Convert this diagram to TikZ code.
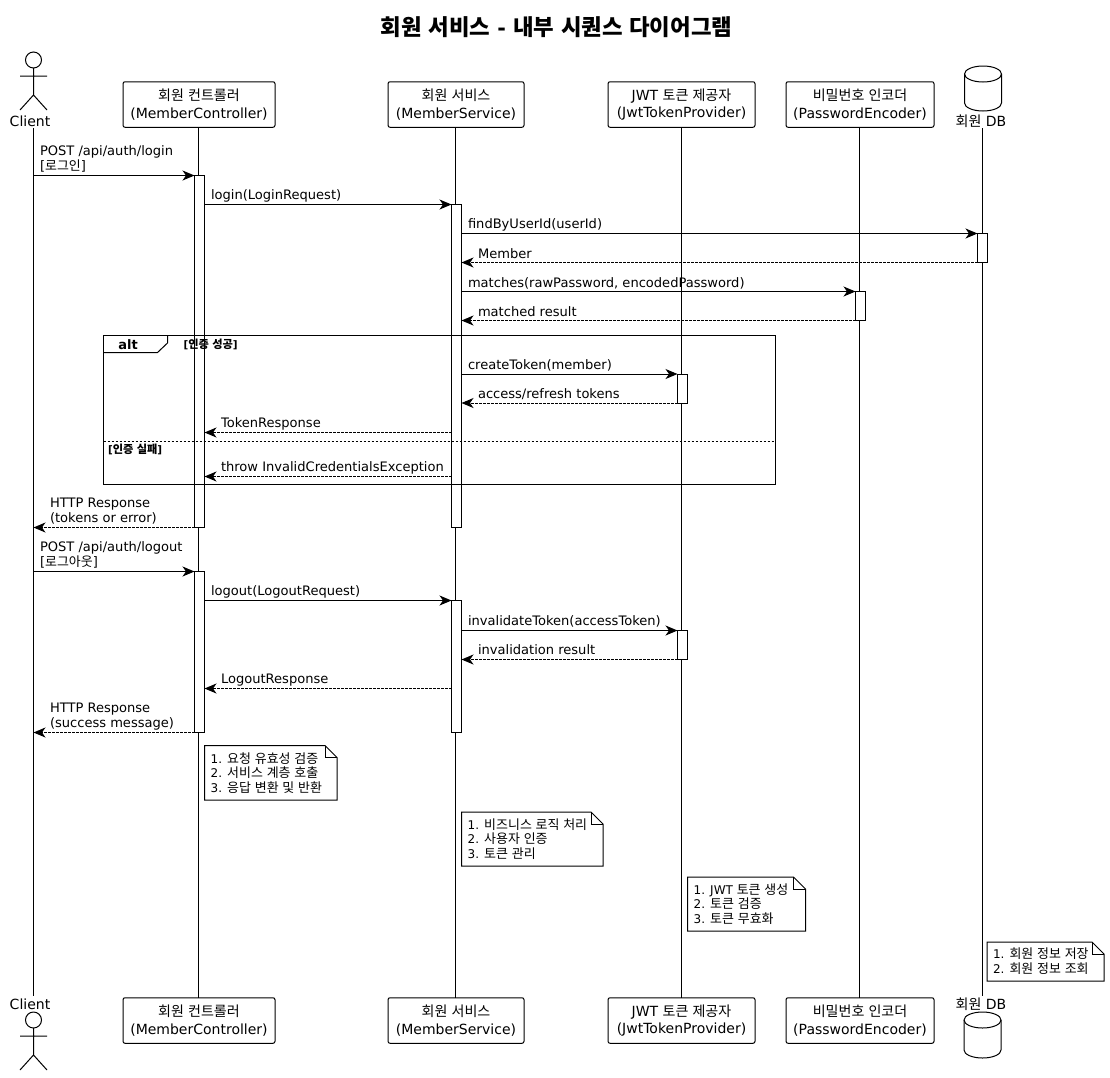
\documentclass[tikz,border=0pt]{standalone}
\usepackage{fontspec}
\usetikzlibrary{arrows.meta,shapes.geometric,calc}
\setmainfont{DejaVu Sans}
\newfontfamily\krfont[Scale=1.08,WordSpace=1.3]{Noto Sans CJK KR}
% Korean at the size the labels and notes print it
\newcommand{\kr}[1]{{\fontsize{12}{14.5}\krfont #1}}
% Korean at the size the participant boxes print it
\newcommand{\krb}[1]{{\fontsize{13}{17}\krfont #1}}
\lineskiplimit=-20pt
\tikzset{
  x=1pt,y=-1pt,
  every node/.style={inner sep=0pt,outer sep=0pt,text=black},
  base/.style={line width=1pt,draw=black},
  life/.style={base},
  partbox/.style={base,fill=white,rounded corners=2pt,minimum height=45.5pt,align=center,font=\fontsize{14}{17.3}\selectfont},
  actname/.style={font=\fontsize{14}{15}\selectfont},
  act/.style={base,fill=white,minimum width=10pt},
  msg/.style={base,-{Stealth[length=12pt,width=10pt,inset=3.5pt]}},
  ret/.style={msg,dash pattern=on 2.5pt off 1.5pt},
  lab/.style={anchor=base west,align=left,font=\fontsize{13.05}{15.5}\selectfont},
  notetext/.style={anchor=base west,align=left,font=\fontsize{12}{14.5}\selectfont},
  guard/.style={anchor=west,font=\fontsize{10.4}{12}\bfseries\selectfont},
  shape2/.style={base,fill=white},
}
\newcommand{\notebox}[4]{\draw[shape2] (#1,#2) -- ({#3-12},#2) -- (#3,{#2+12}) -- (#3,#4) -- (#1,#4) -- cycle;
  \draw[base] ({#3-12},#2) -- ({#3-12},{#2+12}) -- (#3,{#2+12});}
\newcommand{\actor}[2]{\draw[base] (#1,#2) circle (8);
  \draw[base] (#1,{#2+8}) -- (#1,{#2+35}) (#1-13.5,{#2+16}) -- (#1+13.5,{#2+16}) (#1-13.5,{#2+50}) -- (#1,{#2+35}) -- (#1+13.5,{#2+50});}
\newcommand{\dbcyl}[3]{\draw[shape2] (#1-18.5,{#2+8}) arc[start angle=180,end angle=360,x radius=18.5,y radius=8] -- (#1+18.5,{#3-8}) arc[start angle=0,end angle=180,x radius=18.5,y radius=8] -- cycle;
  \draw[base] (#1-18.5,{#2+8}) arc[start angle=180,end angle=0,x radius=18.5,y radius=8];}
\begin{document}
\begin{tikzpicture}
\useasboundingbox (0,0) rectangle (1110,1077);
\fill[white] (0,0) rectangle (1110,1077);
% title
\node[font=\fontsize{20.7}{24}\selectfont\bfseries] (title) at (556.5,27) {{\krfont\bfseries 회원 서비스} - {\krfont\bfseries 내부 시퀀스 다이어그램}};
% participants
\node[partbox,minimum width=152pt] (ctlT) at (199,104.5) {\krb{회원 컨트롤러}\\(MemberController)};
\node[partbox,minimum width=136pt] (svcT) at (456,104.5) {\krb{회원 서비스}\\(MemberService)};
\node[partbox,minimum width=147pt] (jwtT) at (681.5,104.5) {JWT \krb{토큰 제공자}\\(JwtTokenProvider)};
\node[partbox,minimum width=148pt] (pwdT) at (860,104.5) {\krb{비밀번호 인코더}\\(PasswordEncoder)};
\node[partbox,minimum width=152pt] (ctlB) at (199,1020.5) {\krb{회원 컨트롤러}\\(MemberController)};
\node[partbox,minimum width=136pt] (svcB) at (456,1020.5) {\krb{회원 서비스}\\(MemberService)};
\node[partbox,minimum width=147pt] (jwtB) at (681.5,1020.5) {JWT \krb{토큰 제공자}\\(JwtTokenProvider)};
\node[partbox,minimum width=148pt] (pwdB) at (860,1020.5) {\krb{비밀번호 인코더}\\(PasswordEncoder)};
\node[actname] (cliT) at (30,121) {Client};
\node[actname] (cliB) at (30,1004) {Client};
\node[actname] (dbT) at (981,121) {\krb{회원} DB};
\node[actname] (dbB) at (981,1004) {\krb{회원} DB};
\actor{33.5}{60}
\actor{33.5}{1020}
\dbcyl{983}{66}{111}
\dbcyl{982.5}{1012}{1058}
% lifelines
\coordinate (cliTop) at (33.5,128);
\coordinate (cliBot) at (33.5,996);
\coordinate (dbTop) at (982.5,128);
\coordinate (dbBot) at (982.5,996);
\draw[life] (cliTop) -- (cliBot);
\draw[life] (dbTop) -- (dbBot);
\draw[life] (ctlT.south -| 198.5,0) -- (ctlB.north -| 198.5,0);
\draw[life] (svcT.south -| 455.5,0) -- (svcB.north -| 455.5,0);
\draw[life] (jwtT.south) -- (jwtB.north);
\draw[life] (pwdT.south -| 859.5,0) -- (pwdB.north -| 859.5,0);
% activations
\node[act,minimum height=352pt] (ac1) at (199.5,351.5) {};
\node[act,minimum height=161pt] (ac2) at (199.5,652) {};
\node[act,minimum height=323pt] (as1) at (456.5,366) {};
\node[act,minimum height=132pt] (as2) at (456.5,666.5) {};
\node[act,minimum height=29pt] (ad1) at (982.5,248) {};
\node[act,minimum height=29pt] (ap1) at (860.5,306) {};
\node[act,minimum height=29pt] (aj1) at (682.5,388.5) {};
\node[act,minimum height=29pt] (aj2) at (682.5,645) {};
% message levels
\foreach \n/\v in {a/175.5,b/204.5,c/233.5,d/262.5,e/291.5,f/320.5,g/374,h/403,i/432.5,j/476.5,k/527.5,l/571.5,m/600.5,n/630.5,o/659.5,p/688.5,q/732.5}
  \coordinate (y\n) at (0,\v);
\draw[msg] (cliTop |- ya) -- (ac1.west |- ya);
\draw[msg] (ac1.east |- yb) -- (as1.west |- yb);
\draw[msg] (as1.east |- yc) -- (ad1.west |- yc);
\draw[ret] (ad1.west |- yd) -- (as1.east |- yd);
\draw[msg] (as1.east |- ye) -- (ap1.west |- ye);
\draw[ret] (ap1.west |- yf) -- (as1.east |- yf);
\draw[msg] (as1.east |- yg) -- (aj1.west |- yg);
\draw[ret] (aj1.west |- yh) -- (as1.east |- yh);
\draw[ret] (as1.west |- yi) -- (ac1.east |- yi);
\draw[ret] (as1.west |- yj) -- (ac1.east |- yj);
\draw[ret] (ac1.west |- yk) -- (cliTop |- yk);
\draw[msg] (cliTop |- yl) -- (ac2.west |- yl);
\draw[msg] (ac2.east |- ym) -- (as2.west |- ym);
\draw[msg] (as2.east |- yn) -- (aj2.west |- yn);
\draw[ret] (aj2.west |- yo) -- (as2.east |- yo);
\draw[ret] (as2.west |- yp) -- (ac2.east |- yp);
\draw[ret] (ac2.west |- yq) -- (cliTop |- yq);
% labels
\node[lab] (l1) at (40,170.5) {POST /api/auth/login\\{}[\kr{로그인}]};
\node[lab] (l2) at (211,199.5) {login(LoginRequest)};
\node[lab] (l3) at (468,228.5) {findByUserId(userId)};
\node[lab] (l4) at (478,258.5) {Member};
\node[lab] (l5) at (468,287.5) {matches(rawPassword, encodedPassword)};
\node[lab] (l6) at (478,316.5) {matched result};
\node[lab] (l7) at (468,369) {createToken(member)};
\node[lab] (l8) at (478,398.5) {access/refresh tokens};
\node[lab] (l9) at (221,427.5) {TokenResponse};
\node[lab] (l10) at (221,471.5) {throw InvalidCredentialsException};
\node[lab] (l11) at (50,522.5) {HTTP Response\\(tokens or error)};
\node[lab] (l12) at (40,566.5) {POST /api/auth/logout\\{}[\kr{로그아웃}]};
\node[lab] (l13) at (211,595.5) {logout(LogoutRequest)};
\node[lab] (l14) at (468,625.5) {invalidateToken(accessToken)};
\node[lab] (l15) at (478,654.5) {invalidation result};
\node[lab] (l16) at (221,683.5) {LogoutResponse};
\node[lab] (l17) at (50,727.5) {HTTP Response\\(success message)};
% alt frame
\draw[base] (103.5,335.5) rectangle (775.5,484.5);
\draw[base] (103.5,352.5) -- (157.5,352.5) -- (167.5,343) -- (167.5,335.5);
\draw[base,dash pattern=on 2.5pt off 1.5pt] (103.5,441.5) -- (775.5,441.5);
\node[font=\fontsize{13}{15}\bfseries\selectfont] (alt) at (128,345) {alt};
\node[guard] (g1) at (183.5,344) {[{\krfont\bfseries 인증 성공}]};
\node[guard] (g2) at (108,449) {[{\krfont\bfseries 인증 실패}]};
% notes
\notebox{204.5}{745.5}{337}{800}
\node[notetext] (n1) at (210.7,792) {1. \kr{요청 유효성 검증}\\2. \kr{서비스 계층 호출}\\3. \kr{응답 변환 및 반환}};
\notebox{461.5}{812}{603}{866}
\node[notetext] (n2) at (467.7,858) {1. \kr{비즈니스 로직 처리}\\2. \kr{사용자 인증}\\3. \kr{토큰 관리}};
\notebox{687.5}{877}{805.5}{931}
\node[notetext] (n3) at (693.7,923) {1. JWT \kr{토큰 생성}\\2. \kr{토큰 검증}\\3. \kr{토큰 무효화}};
\notebox{987}{942}{1104}{981}
\node[notetext] (n4) at (993,973) {1. \kr{회원 정보 저장}\\2. \kr{회원 정보 조회}};
\end{tikzpicture}
\end{document}
